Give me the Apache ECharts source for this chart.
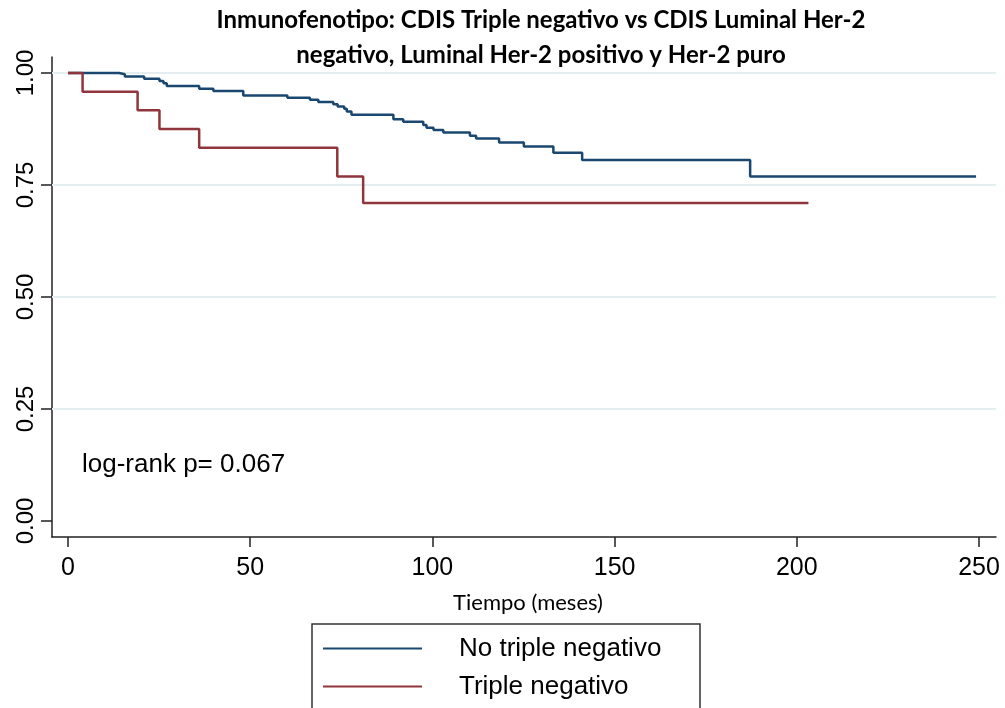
<!DOCTYPE html>
<html>
<head>
<meta charset="utf-8">
<script src="https://cdn.jsdelivr.net/npm/echarts@6/dist/echarts.min.js"></script>
<style>html,body{margin:0;padding:0;background:#fff}#c{width:1005px;height:708px}</style>
</head>
<body>
<div id="c"></div>
<script>
// Kaplan-Meier steps (time in months, survival)
const blueTime = [0, 14.0, 15.6, 20.9, 25.1, 26.2, 27.1, 36.0, 39.9, 48.1, 60.2, 66.4, 68.7, 72.8, 74.0, 75.8, 76.5, 77.8, 89.3, 92.0, 97.5, 98.4, 100.3, 103.0, 110.3, 112.0, 118.3, 125.1, 133.2, 141.1, 187.2, 249.2];
const blueSurv = [1.0, 0.997, 0.992, 0.987, 0.982, 0.977, 0.971, 0.965, 0.960, 0.950, 0.945, 0.940, 0.935, 0.930, 0.925, 0.920, 0.914, 0.907, 0.897, 0.891, 0.884, 0.878, 0.873, 0.867, 0.860, 0.854, 0.845, 0.836, 0.822, 0.806, 0.769, 0.769];
const redTime = [0, 4.0, 19.1, 25.1, 36.0, 73.9, 81.0, 203.2];
const redSurv = [1.0, 0.958, 0.917, 0.875, 0.833, 0.769, 0.710, 0.710];
const xTicks = [0, 50, 100, 150, 200, 250];
const yTicks = [0, 0.25, 0.5, 0.75, 1];
const yGrid = [0.25, 0.5, 0.75, 1];
const seriesNames = ['No triple negativo', 'Triple negativo'];
const titleLines = ['Inmunofenotipo: CDIS Triple negativo vs CDIS Luminal Her-2', 'negativo, Luminal Her-2 positivo y Her-2 puro'];
const xName = 'Tiempo (meses)';
const note = 'log-rank p= 0.067';

const BLUE = '#1a476f', RED = '#90353b';
const chart = echarts.init(document.getElementById('c'), null, {renderer: 'canvas'});
const zip = (a, b) => a.map((v, i) => [v, b[i]]);

chart.setOption({
  animation: false,
  backgroundColor: '#fff',
  grid: {left: 52, right: 9, top: 57, bottom: 171, containLabel: false},
  xAxis: {
    type: 'value', min: -4.39, max: 254.67,
    axisLine: {show: true, onZero: false, lineStyle: {color: '#222', width: 1.5}},
    axisTick: {show: true, length: 10, customValues: xTicks, lineStyle: {color: '#222', width: 1.5}},
    axisLabel: {customValues: xTicks, color: '#000', fontSize: 25, fontFamily: 'Liberation Sans', margin: 19},
    splitLine: {show: false}
  },
  yAxis: {
    type: 'value', min: -0.0357, max: 1.0357,
    axisLine: {show: true, onZero: false, lineStyle: {color: '#222', width: 1.5}},
    axisTick: {show: true, length: 11, customValues: yTicks, lineStyle: {color: '#222', width: 1.5}},
    axisLabel: {customValues: yTicks, rotate: 90, color: '#000', fontSize: 24, fontFamily: 'Liberation Sans', margin: 14,
      formatter: v => v.toFixed(2)},
    splitLine: {show: false}
  },
  legend: {
    orient: 'vertical', left: 323, top: 635.5,
    data: seriesNames.map(n => ({name: n, icon: 'rect'})),
    itemWidth: 99, itemHeight: 2, itemGap: 12,
    padding: 0,
    textStyle: {fontSize: 26, fontFamily: 'Liberation Sans', color: '#000', lineHeight: 25, padding: [0, 0, 0, 32]},
    selectedMode: false
  },
  graphic: [
    {type: 'rect', shape: {x: 312, y: 624, width: 388, height: 120}, style: {fill: 'none', stroke: '#333', lineWidth: 1.5}, silent: true},
    {type: 'text', x: 541, y: 20, style: {text: titleLines[0], font: 'bold 24px Lato', fill: '#000', textAlign: 'center', textVerticalAlign: 'middle'}},
    {type: 'text', x: 541, y: 55, style: {text: titleLines[1], font: 'bold 24px Lato', fill: '#000', textAlign: 'center', textVerticalAlign: 'middle'}},
    {type: 'text', x: 528, y: 603, style: {text: xName, font: '22px Lato', fill: '#000', textAlign: 'center', textVerticalAlign: 'middle'}},
    {type: 'text', x: 82, y: 465, style: {text: note, font: '26px "Liberation Sans"', fill: '#000', textAlign: 'left', textVerticalAlign: 'middle'}}
  ],
  series: [
    {
      name: seriesNames[0], type: 'line', step: 'end', data: zip(blueTime, blueSurv),
      showSymbol: false, symbol: 'none', color: BLUE, lineStyle: {color: BLUE, width: 2.5}, z: 3,
      markLine: {silent: true, symbol: 'none', z: 1, label: {show: false},
        lineStyle: {color: '#e4edf0', width: 2, type: 'solid'},
        data: yGrid.map(v => ({yAxis: v}))}
    },
    {
      name: seriesNames[1], type: 'line', step: 'end', data: zip(redTime, redSurv),
      showSymbol: false, symbol: 'none', color: RED, lineStyle: {color: RED, width: 2.5}, z: 3
    }
  ]
});
</script>
</body>
</html>
